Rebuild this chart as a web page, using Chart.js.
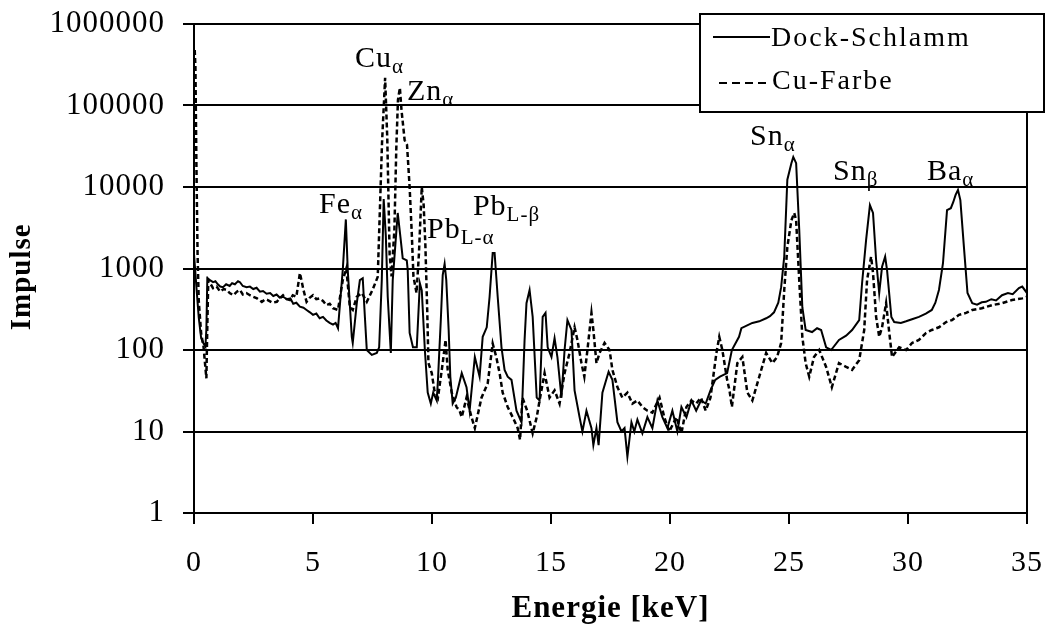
<!DOCTYPE html>
<html lang="de">
<head>
<meta charset="utf-8">
<title>Spektrum Dock-Schlamm / Cu-Farbe</title>
<script src="https://cdn.jsdelivr.net/npm/chart.js@4.4.1/dist/chart.umd.min.js"></script>
<style>
  html, body { margin: 0; padding: 0; background: #fff; }
  canvas { display: block; }
</style>
</head>
<body>
<canvas id="spektrum" width="1048" height="628"></canvas>
<script>
// Achsen
const energyTicks = [0, 5, 10, 15, 20, 25, 30, 35];
const impulseTicks = [1, 10, 100, 1000, 10000, 100000, 1000000];

// Dock-Schlamm (durchgezogen)
const schlammKeV = [
  0, 0.1, 0.2, 0.3, 0.4, 0.48, 0.52, 0.56, 0.67, 0.8,
  0.9, 1.0, 1.1, 1.22, 1.35, 1.5, 1.6, 1.72, 1.85, 1.93,
  2.05, 2.21, 2.35, 2.49, 2.63, 2.77, 2.9, 3.05, 3.2, 3.33,
  3.47, 3.6, 3.75, 3.9, 4.05, 4.17, 4.3, 4.45, 4.6, 4.73,
  4.87, 5.0, 5.14, 5.28, 5.42, 5.56, 5.7, 5.84, 5.95, 6.05,
  6.25, 6.38, 6.46, 6.63, 6.67, 6.84, 6.97, 7.09, 7.18, 7.26,
  7.47, 7.68, 7.78, 7.89, 7.97, 8.06, 8.14, 8.27, 8.35, 8.56,
  8.69, 8.77, 8.94, 8.98, 9.06, 9.2, 9.36, 9.49, 9.57, 9.7,
  9.82, 9.95, 10.05, 10.2, 10.25, 10.37, 10.45, 10.53, 10.6, 10.7,
  10.77, 10.87, 11.0, 11.25, 11.45, 11.58, 11.8, 12.0, 12.13, 12.3,
  12.42, 12.55, 12.63, 12.76, 12.92, 13.05, 13.18, 13.34, 13.55, 13.76,
  13.89, 13.97, 14.1, 14.23, 14.4, 14.52, 14.65, 14.77, 14.86, 15.02,
  15.15, 15.27, 15.44, 15.57, 15.69, 15.86, 15.99, 16.2, 16.32, 16.49,
  16.7, 16.78, 16.91, 17.0, 17.16, 17.42, 17.58, 17.79, 17.96, 18.09,
  18.21, 18.38, 18.5, 18.63, 18.84, 19.05, 19.26, 19.47, 19.68, 19.89,
  20.1, 20.31, 20.48, 20.69, 20.9, 21.1, 21.3, 21.5, 21.7, 21.9,
  22.1, 22.4, 22.6, 22.9, 23.0, 23.46, 23.75, 24.04, 24.2, 24.37,
  24.55, 24.67, 24.8, 24.93, 25.1, 25.18, 25.3, 25.43, 25.56, 25.7,
  25.97, 26.18, 26.35, 26.56, 26.77, 27.1, 27.4, 27.65, 27.95, 28.07,
  28.24, 28.4, 28.53, 28.66, 28.79, 28.91, 29.04, 29.12, 29.3, 29.42,
  29.7, 29.92, 30.2, 30.46, 30.75, 31.0, 31.15, 31.3, 31.47, 31.64,
  31.8, 31.9, 32.0, 32.1, 32.2, 32.35, 32.5, 32.7, 32.9, 33.1,
  33.27, 33.5, 33.7, 33.95, 34.2, 34.4, 34.66, 34.8, 35.0
];
const schlammImpulse = [
  1500, 600, 250, 140, 120, 110, 180, 760, 720, 680,
  700, 640, 600, 590, 640, 610, 660, 640, 700, 680,
  610, 590, 600, 560, 580, 520, 530, 490, 500, 460,
  480, 440, 450, 420, 430, 370, 380, 340, 330, 310,
  290, 270, 280, 245, 255, 230, 215, 205, 215, 185,
  955, 4000, 955, 145, 122, 375, 720, 760, 255, 100,
  87, 92, 108, 720, 7100, 2500, 450, 92, 720, 4800,
  2200, 1330, 1260, 955, 162, 108, 108, 660, 540, 100,
  30, 22, 30, 24, 43, 233, 830, 1140, 720, 176,
  47, 22, 26, 52, 35, 18, 82, 47, 145, 190,
  450, 1550, 1550, 450, 108, 57, 47, 43, 18, 13,
  133, 375, 545, 255, 26, 24, 255, 285, 108, 82,
  140, 82, 26, 100, 233, 176, 32, 15, 10, 18,
  11, 6.8, 11, 6.8, 30, 54, 43, 13, 10, 11,
  4.9, 13, 10, 14, 9.5, 15, 11, 24, 15, 11,
  18, 10, 20, 15, 24, 18, 24, 22, 32, 43,
  47, 52, 100, 145, 185, 215, 225, 245, 260, 290,
  380, 590, 1400, 12300, 19600, 23300, 19600, 3000, 335, 176,
  166, 185, 176, 108, 100, 133, 150, 176, 233, 660,
  2240, 6000, 4800, 1270, 500, 1050, 1400, 955, 255, 220,
  215, 225, 240, 255, 280, 310, 380, 545, 1160, 5200,
  5500, 6500, 8000, 9200, 6900, 1830, 500, 375, 360, 385,
  390, 420, 405, 470, 500, 485, 575, 600, 500
];

// Cu-Farbe (gestrichelt)
const farbeKeV = [
  0.03, 0.06, 0.1, 0.15, 0.2, 0.3, 0.4, 0.46, 0.52, 0.56,
  0.6, 0.8, 0.95, 1.1, 1.25, 1.38, 1.5, 1.65, 1.8, 1.93,
  2.05, 2.2, 2.35, 2.49, 2.65, 2.85, 3.0, 3.1, 3.3, 3.48,
  3.6, 3.74, 3.9, 4.03, 4.15, 4.3, 4.45, 4.6, 4.73, 4.87,
  5.0, 5.14, 5.28, 5.42, 5.56, 5.7, 5.84, 6.05, 6.25, 6.4,
  6.55, 6.67, 6.84, 7.05, 7.26, 7.5, 7.72, 7.9, 8.03, 8.12,
  8.22, 8.3, 8.42, 8.5, 8.57, 8.65, 8.72, 8.85, 8.95, 9.06,
  9.15, 9.22, 9.35, 9.45, 9.57, 9.65, 9.72, 9.8, 9.85, 9.99,
  10.1, 10.25, 10.45, 10.57, 10.66, 10.83, 11.03, 11.16, 11.25, 11.45,
  11.66, 11.8, 12.08, 12.34, 12.55, 12.7, 12.84, 12.97, 13.18, 13.39,
  13.6, 13.7, 13.8, 14.0, 14.23, 14.4, 14.52, 14.73, 14.94, 15.15,
  15.36, 15.57, 15.78, 15.99, 16.11, 16.28, 16.4, 16.53, 16.7, 16.78,
  16.91, 17.04, 17.25, 17.46, 17.58, 17.79, 18.0, 18.21, 18.42, 18.63,
  18.84, 19.05, 19.26, 19.56, 19.76, 19.97, 20.27, 20.48, 20.69, 20.9,
  21.1, 21.3, 21.5, 21.7, 21.95, 22.07, 22.2, 22.4, 22.5, 22.6,
  22.83, 23.04, 23.25, 23.46, 23.75, 24.04, 24.3, 24.5, 24.67, 24.8,
  24.93, 25.1, 25.22, 25.3, 25.43, 25.56, 25.7, 25.85, 26.05, 26.27,
  26.56, 26.8, 27.1, 27.4, 27.65, 27.95, 28.16, 28.28, 28.45, 28.53,
  28.66, 28.79, 28.91, 29.08, 29.2, 29.33, 29.63, 29.92, 30.17, 30.46,
  30.76, 31.0, 31.3, 31.6, 31.85, 32.14, 32.44, 32.7, 33.1, 33.53,
  33.95, 34.37, 34.8, 35.0
];
const farbeImpulse = [
  480000, 300000, 20000, 1500, 400, 160, 110, 70, 45, 200,
  720, 575, 600, 520, 560, 545, 500, 470, 520, 545,
  480, 500, 470, 450, 430, 390, 420, 410, 380, 390,
  430, 470, 420, 410, 470, 450, 880, 545, 390, 440,
  470, 420, 430, 400, 355, 370, 325, 310, 720, 1000,
  335, 310, 450, 500, 390, 545, 790, 34700, 218000, 40000,
  1500, 800, 3000, 30000, 117000, 165000, 87000, 37500, 33000, 10000,
  2700, 800, 500, 1500, 10000, 6000, 2000, 300, 69, 52,
  32, 26, 69, 133, 57, 30, 20, 18, 15, 26,
  15, 11, 26, 39, 120, 82, 52, 30, 20, 15,
  11, 7.9, 26, 18, 9.5, 15, 24, 52, 26, 32,
  22, 52, 92, 190, 133, 69, 47, 100, 285, 176,
  69, 92, 122, 100, 57, 35, 26, 30, 22, 24,
  20, 18, 17, 26, 15, 10, 15, 9.5, 20, 24,
  22, 26, 18, 26, 92, 145, 100, 43, 32, 20,
  69, 82, 30, 24, 47, 92, 69, 82, 122, 545,
  1830, 3900, 4800, 3900, 720, 145, 69, 47, 82, 100,
  62, 35, 69, 62, 57, 75, 176, 720, 1400, 880,
  255, 145, 190, 375, 176, 82, 108, 100, 122, 133,
  162, 176, 190, 220, 233, 270, 285, 310, 325, 355,
  375, 410, 430, 450
];

// Peak-Beschriftungen: Element, Index, Lage der Grundlinie
const peakElements = ["Fe", "Cu", "Zn", "Pb", "Pb", "Sn", "Sn", "Ba"];
const peakLines = ["\u03b1", "\u03b1", "\u03b1", "L-\u03b1", "L-\u03b2", "\u03b1", "\u03b2", "\u03b1"];
const peakKeV = [5.25, 6.76, 8.95, 9.79, 11.72, 23.36, 26.85, 30.8];
const peakImpulse = [4800, 296000, 117000, 2370, 4530, 32700, 12200, 12200];

const SERIF = "'Liberation Serif', 'Times New Roman', serif";

function points(xs, ys) {
  return xs.map((e, i) => ({ x: e, y: ys[i] }));
}

// etwas Sperrung fuer die Achsenschrift
const textSpacing = {
  id: "textSpacing",
  beforeUpdate(chart) { chart.ctx.letterSpacing = "1px"; },
  beforeDraw(chart) { chart.ctx.letterSpacing = "1px"; }
};

// rechter Rahmen des Diagrammbereichs
const plotFrame = {
  id: "plotFrame",
  beforeDatasetsDraw(chart) {
    const { ctx, chartArea: a } = chart;
    ctx.save();
    ctx.strokeStyle = "#000";
    ctx.lineWidth = 2;
    ctx.beginPath();
    ctx.moveTo(a.right, a.top);
    ctx.lineTo(a.right, a.bottom);
    ctx.stroke();
    ctx.restore();
  }
};

const peakLabels = {
  id: "peakLabels",
  afterDatasetsDraw(chart) {
    const { ctx, scales: { x, y } } = chart;
    ctx.save();
    ctx.fillStyle = "#000";
    ctx.textAlign = "left";
    ctx.textBaseline = "alphabetic";
    ctx.letterSpacing = "1px";
    peakElements.forEach((el, i) => {
      const px = x.getPixelForValue(peakKeV[i]);
      const py = y.getPixelForValue(peakImpulse[i]);
      ctx.font = "30px " + SERIF;
      ctx.fillText(el, px, py);
      const w = ctx.measureText(el).width;
      ctx.font = "21px " + SERIF;
      ctx.fillText(peakLines[i], px + w, py + 6);
    });
    ctx.restore();
  }
};

const legendBox = {
  id: "legendBox",
  afterDraw(chart) {
    const ctx = chart.ctx;
    const box = { x: 700, y: 14, w: 344, h: 98 };
    const rows = [
      { x0: 713, x1: 770, lineY: 37, textX: 771, baseY: 46, dash: [] },
      { x0: 719, x1: 768, lineY: 83, textX: 772, baseY: 89, dash: [8, 5] }
    ];
    ctx.save();
    ctx.fillStyle = "#fff";
    ctx.fillRect(box.x, box.y, box.w, box.h);
    ctx.strokeStyle = "#000";
    ctx.lineWidth = 2;
    ctx.strokeRect(box.x, box.y, box.w, box.h);
    chart.data.datasets.forEach((ds, i) => {
      const r = rows[i];
      ctx.setLineDash(r.dash);
      ctx.lineWidth = 2;
      ctx.beginPath();
      ctx.moveTo(r.x0, r.lineY);
      ctx.lineTo(r.x1, r.lineY);
      ctx.stroke();
      ctx.setLineDash([]);
      ctx.font = "28px " + SERIF;
      ctx.letterSpacing = "2px";
      ctx.fillStyle = "#000";
      ctx.textBaseline = "alphabetic";
      ctx.fillText(ds.label, r.textX, r.baseY);
    });
    ctx.restore();
  }
};

new Chart(document.getElementById("spektrum"), {
  type: "line",
  data: {
    datasets: [
      {
        label: "Dock-Schlamm",
        data: points(schlammKeV, schlammImpulse),
        borderColor: "#000",
        borderWidth: 2
      },
      {
        label: "Cu-Farbe",
        data: points(farbeKeV, farbeImpulse),
        borderColor: "#000",
        borderWidth: 2.5,
        borderDash: [5, 3]
      }
    ]
  },
  options: {
    responsive: false,
    animation: false,
    parsing: false,
    layout: { padding: { top: 24, right: 21, left: 0, bottom: 0 } },
    elements: { point: { radius: 0 }, line: { tension: 0 } },
    plugins: { legend: { display: false }, tooltip: { enabled: false } },
    scales: {
      x: {
        type: "linear",
        min: 0,
        max: 35,
        afterBuildTicks: s => { s.ticks = energyTicks.map(v => ({ value: v })); },
        // feste Hoehe, Randbedarf der Randbeschriftung uebernimmt layout.padding
        afterFit: s => {
          s.height = 115;
          s.paddingLeft = 0;
          s.paddingRight = 0;
        },
        ticks: {
          color: "#000",
          font: { family: SERIF, size: 30 },
          padding: 21,
          maxRotation: 0,
          autoSkip: false
        },
        grid: { drawOnChartArea: false, drawTicks: true, tickLength: 11, color: "#000", lineWidth: 2 },
        border: { color: "#000", width: 2 },
        title: {
          display: true,
          text: "Energie [keV]",
          color: "#000",
          font: { family: SERIF, size: 31, weight: "bold" },
          padding: { top: 0, bottom: 0 }
        }
      },
      y: {
        type: "logarithmic",
        min: 1,
        max: 1000000,
        afterBuildTicks: s => { s.ticks = impulseTicks.map(v => ({ value: v })); },
        afterFit: s => {
          s.width = 194;
          s.paddingTop = 0;
          s.paddingBottom = 0;
        },
        ticks: {
          color: "#000",
          font: { family: SERIF, size: 31 },
          padding: 18,
          autoSkip: false,
          callback: v => String(v)
        },
        grid: { color: "#000", lineWidth: 2, tickLength: 11 },
        border: { color: "#000", width: 2 },
        title: {
          display: true,
          text: "Impulse  ",
          color: "#000",
          font: { family: SERIF, size: 29, weight: "bold" },
          padding: { top: 5, bottom: 0 }
        }
      }
    }
  },
  plugins: [textSpacing, plotFrame, peakLabels, legendBox]
});
</script>
</body>
</html>
